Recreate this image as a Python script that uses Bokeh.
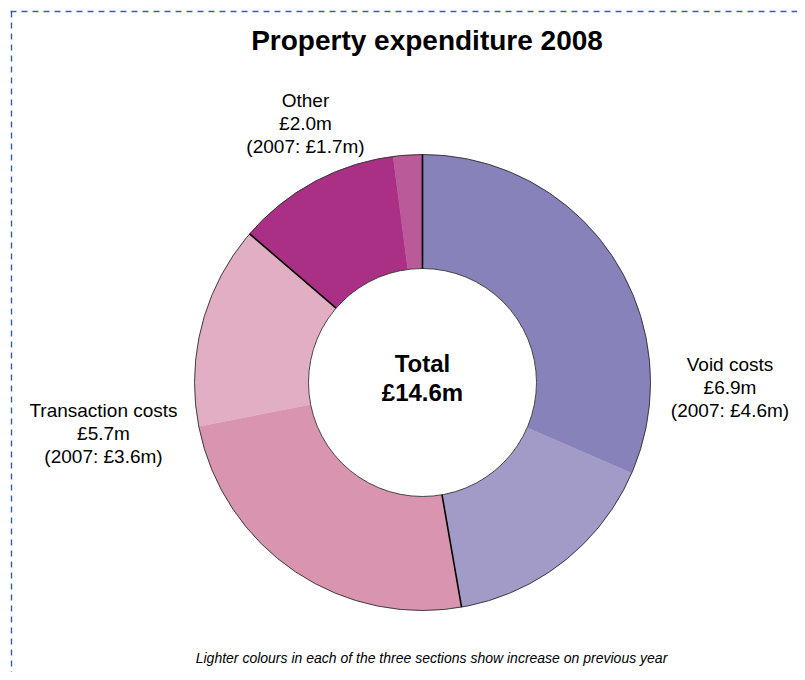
import math
from bokeh.plotting import figure
from bokeh.models import Range1d
from bokeh.core.properties import value
from bokeh.embed import file_html
from bokeh.resources import INLINE

# ---- data ----
categories = ["Void costs", "Transaction costs", "Other"]
values_2008 = [6.9, 5.7, 2.0]
values_2007 = [4.6, 3.6, 1.7]
total_2008 = 14.6
colors_2007 = ["#8782B9", "#D994B0", "#AA3085"]
colors_increase = ["#A29BC7", "#E1AEC4", "#BA5A98"]

W, H = 797, 672
FONT = "Liberation Sans"
TEXT_SHIFT = 8  # empirical baseline correction

p = figure(width=W, height=H, output_backend="svg", toolbar_location=None,
           x_range=Range1d(0, W), y_range=Range1d(0, H), min_border=0,
           match_aspect=False)
p.axis.visible = False
p.grid.visible = False
p.outline_line_color = None
p.background_fill_color = "white"
p.border_fill_color = "white"


def sx(x):
    return x


def sy(y):
    return H - y


# dashed frame (top and left edges visible)
p.line([sx(10), sx(W)], [sy(11), sy(11)], line_color="#3A5BA8", line_width=1.4, line_dash="6 5")
p.line([sx(11), sx(11)], [sy(11), sy(H)], line_color="#3A5BA8", line_width=1.4, line_dash="6 5")

# donut
cx, cy = sx(422), sy(382)
r_out, r_in = 228, 114

starts, ends, cols = [], [], []
bounds = []
cum = 0.0
for v07, v08, c07, cinc in zip(values_2007, values_2008, colors_2007, colors_increase):
    for part, col in ((v07, c07), (v08 - v07, cinc)):
        a0 = math.pi / 2 - cum / total_2008 * 2 * math.pi
        cum += part
        a1 = math.pi / 2 - cum / total_2008 * 2 * math.pi
        starts.append(a0)
        ends.append(a1)
        cols.append(col)
    bounds.append(math.pi / 2 - cum / total_2008 * 2 * math.pi)

p.annular_wedge(x=[cx] * len(starts), y=[cy] * len(starts), inner_radius=r_in, outer_radius=r_out,
                start_angle=starts, end_angle=ends, direction="clock",
                fill_color=cols, line_color=cols, line_width=0.5)

# outlines
p.circle(x=[cx], y=[cy], radius=r_out, fill_color=None, line_color="#333333", line_width=0.9)
p.circle(x=[cx], y=[cy], radius=r_in, fill_color="white", line_color="#333333", line_width=0.9)

# category separators
x0 = [cx + r_in * math.cos(a) for a in bounds]
y0 = [cy + r_in * math.sin(a) for a in bounds]
x1 = [cx + r_out * math.cos(a) for a in bounds]
y1 = [cy + r_out * math.sin(a) for a in bounds]
p.segment(x0=x0, y0=y0, x1=x1, y1=y1, line_color="black", line_width=1.6)


def txt(x, y, s, size, style="normal", align="center"):
    p.text(x=[x], y=[y + TEXT_SHIFT], text=[s], text_font=value(FONT), text_font_size=size,
           text_font_style=style, text_align=align, text_baseline="alphabetic",
           text_color="black")


# title
txt(sx(426.5), sy(48), "Property expenditure 2008", "28px", "bold")

# centre total
txt(cx, sy(371), "Total", "24px", "bold")
txt(cx, sy(400), "£%.1fm" % total_2008, "24px", "bold")

# category labels
label_pos = [(729.5, 372), (103, 418), (305, 108)]
for name, v08, v07, (lx, ly) in zip(categories, values_2008, values_2007, label_pos):
    lines = [name, "£%.1fm" % v08, "(2007: £%.1fm)" % v07]
    for i, s in enumerate(lines):
        txt(sx(lx), sy(ly + 23 * i), s, "19px")

# footnote
txt(sx(431), sy(665), "Lighter colours in each of the three sections show increase on previous year",
    "14px", "italic")

open("out.html", "w").write(file_html(p, INLINE))
